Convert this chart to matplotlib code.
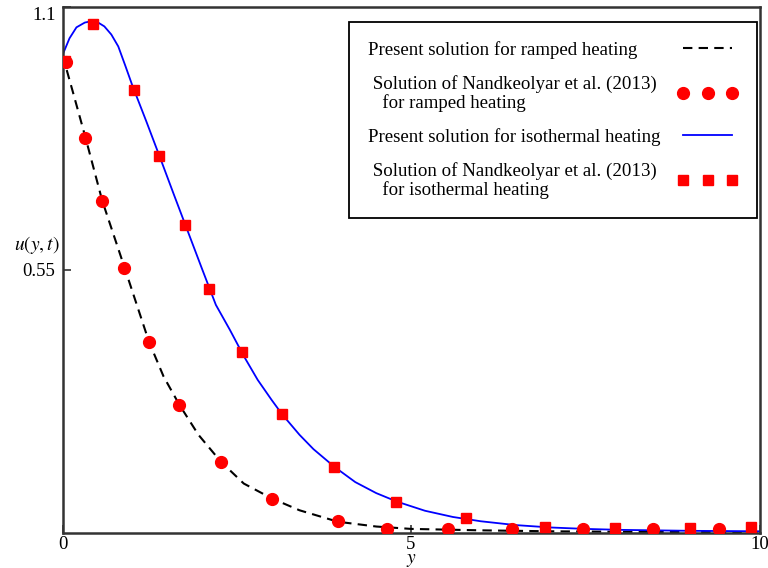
import numpy as np
import matplotlib
matplotlib.use("Agg")
import matplotlib.pyplot as plt

# present solution, ramped heating (dashed curve)
ramp_y = [0, 0.15, 0.33, 0.57, 0.89, 1.24, 1.45, 1.68, 1.95, 2.27, 2.6, 3.0, 3.4, 3.95, 4.5, 5.0, 6.0, 7.0, 8.0, 10.0]
ramp_u = [1.0, 0.922, 0.827, 0.695, 0.555, 0.40, 0.327, 0.267, 0.205, 0.149, 0.103, 0.072, 0.047, 0.023,
          0.013, 0.008, 0.005, 0.003, 0.002, 0.001]

# present solution, isothermal heating (solid curve)
iso_y = [0, 0.1, 0.2, 0.32, 0.42, 0.5, 0.6, 0.7, 0.8, 0.9, 1.0, 1.2, 1.4, 1.6, 1.8, 2.0, 2.2, 2.4, 2.6,
         2.8, 3.0, 3.15, 3.4, 3.6, 3.9, 4.2, 4.5, 4.8, 5.2, 5.6, 6.0, 6.5, 7.0, 7.5, 8.0, 9.0, 10.0]
iso_u = [1.0, 1.035, 1.058, 1.068, 1.071, 1.069, 1.060, 1.043, 1.018, 0.978, 0.937, 0.862, 0.785, 0.707,
         0.630, 0.553, 0.477, 0.425, 0.370, 0.320, 0.278, 0.248, 0.205, 0.175, 0.138, 0.106, 0.083, 0.065,
         0.046, 0.033, 0.024, 0.016, 0.011, 0.008, 0.006, 0.004, 0.003]

# Nandkeolyar et al. (2013), ramped heating (circles)
nk_ramp_y = [0.05, 0.327, 0.567, 0.887, 1.237, 1.676, 2.274, 3.010, 3.948, 4.651, 5.527, 6.445, 7.472, 8.476, 9.423]
nk_ramp_u = [0.986, 0.827, 0.695, 0.555, 0.400, 0.267, 0.149, 0.070, 0.0245, 0.008, 0.008, 0.008, 0.008, 0.008, 0.008]

# Nandkeolyar et al. (2013), isothermal heating (squares)
nk_iso_y = [0.035, 0.433, 1.021, 1.389, 1.758, 2.106, 2.571, 3.145, 3.900, 4.785, 5.789, 6.922, 7.927, 9.003, 9.878]
nk_iso_u = [0.987, 1.066, 0.927, 0.789, 0.645, 0.510, 0.378, 0.248, 0.138, 0.065, 0.031, 0.011, 0.010, 0.009, 0.011]

plt.rcParams["font.family"] = "Liberation Serif"
plt.rcParams["mathtext.fontset"] = "stix"

fig = plt.figure(figsize=(7.68, 5.68), dpi=100)
ax = fig.add_axes([0.0814, 0.0621, 0.9076, 0.9251])

ax.plot(ramp_y, ramp_u, color="black", linestyle=(0, (4.5, 3)), linewidth=1.5,
        label="Present solution for ramped heating", zorder=2)
ax.plot(nk_ramp_y, nk_ramp_u, "o", color="red", markersize=8.5, linestyle="none",
        label=" Solution of Nandkeolyar et al. (2013)\n   for ramped heating", zorder=3)
ax.plot(iso_y, iso_u, color="blue", linewidth=1.3,
        label="Present solution for isothermal heating", zorder=2)
ax.plot(nk_iso_y, nk_iso_u, "s", color="red", markersize=7.5, linestyle="none",
        label=" Solution of Nandkeolyar et al. (2013)\n   for isothermal heating", zorder=3)

ax.set_xlim(0, 10)
ax.set_ylim(0, 1.1)
ax.set_xticks([0, 5, 10])
ax.set_xticklabels(["0", "5", "10"])
ax.set_yticks([0.55, 1.1])
ax.set_yticklabels(["0.55", "1.1"])
ax.tick_params(direction="in", length=6, width=1.2, labelsize=13.5, color="#333333", pad=5)
ax.tick_params(axis="x", pad=2.5)
ax.get_yticklabels()[-1].set_va("top")

for s in ax.spines.values():
    s.set_linewidth(1.8)
    s.set_color("#333333")

ax.set_xlabel("$y$", fontsize=14, labelpad=-1)
ax.text(-0.005, 0.548, "$u\\left(y,t\\right)$", transform=ax.transAxes,
        ha="right", va="center", fontsize=14)

leg = ax.legend(loc="upper right", bbox_to_anchor=(0.996, 0.972), borderaxespad=0,
                markerfirst=False, numpoints=3, handlelength=3.2,
                fontsize=13.6, labelspacing=0.85, borderpad=1.0, fancybox=False,
                framealpha=1, edgecolor="black")
leg.get_frame().set_linewidth(1.3)
for t in leg.get_texts():
    t.set_linespacing(1.1)
# text on the left, samples pushed to the right edge of the box
for col in leg._legend_handle_box.get_children():
    col.align = "left"
    col.width = 370
    for item in col.get_children():
        item.mode = "expand"

fig.savefig("out.png", dpi=100)
